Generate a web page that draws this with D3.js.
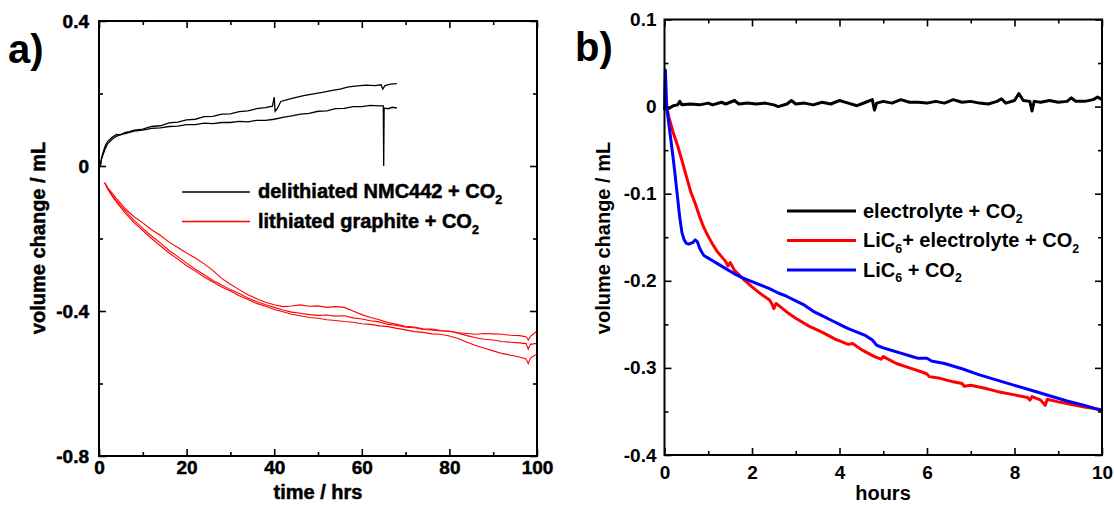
<!DOCTYPE html>
<html>
<head>
<meta charset="utf-8">
<script src="https://cdn.jsdelivr.net/npm/d3@7"></script>
<style>
  body { margin: 0; background: #fff; }
  svg { display: block; font-family: "Liberation Sans", Arial, sans-serif; font-weight: bold; }
  .heavy text { stroke: #000; stroke-width: 0.5px; }
</style>
</head>
<body>
<svg id="chart" width="1114" height="505"></svg>
<script>
// ---- panel a data: [time / hrs, volume change / mL] ----
const nmcUpper = [[0.3,0],[0.6,0.024],[1,0.04],[1.5,0.058],[2,0.068],[3,0.079],[4,0.087],[5,0.086],[6,0.093],[7,0.095],[8,0.099],[10,0.102],[12,0.109],[14,0.111],[16,0.119],[18,0.121],[20,0.127],[22,0.129],[24,0.136],[26,0.137],[28,0.143],[30,0.144],[32,0.15],[34,0.152],[36,0.158],[38,0.161],[39.6,0.165],[40,0.19],[40.2,0.151],[40.7,0.158],[41.5,0.178],[43,0.183],[45,0.189],[47,0.195],[49,0.199],[51,0.203],[53,0.208],[55,0.212],[57,0.218],[59,0.221],[61,0.223],[63,0.222],[64.4,0.224],[64.8,0.212],[65.3,0.222],[66.5,0.226],[68,0.227]];
const nmcLower = [[0.3,0],[0.6,0.02],[1,0.034],[1.5,0.05],[2,0.062],[3,0.074],[4,0.082],[5,0.087],[6,0.089],[8,0.096],[10,0.099],[12,0.104],[14,0.105],[16,0.109],[18,0.11],[20,0.114],[22,0.114],[24,0.118],[26,0.117],[28,0.12],[30,0.12],[32,0.123],[34,0.122],[36,0.126],[38,0.126],[40,0.129],[42,0.134],[44,0.138],[46,0.143],[48,0.145],[50,0.151],[52,0.152],[54,0.158],[56,0.159],[58,0.164],[60,0.164],[62,0.167],[64,0.166],[64.9,0.166],[65,0],[65.1,0.16],[66,0.158],[67,0.162],[68,0.16]];
const graphite1 = [[1.3,-0.046],[2,-0.06],[3,-0.075],[4,-0.09],[5,-0.104],[6,-0.118],[8,-0.14],[10,-0.157],[12,-0.176],[14,-0.191],[16,-0.21],[18,-0.225],[20,-0.24],[22,-0.254],[24,-0.27],[26,-0.288],[28,-0.31],[30,-0.326],[32,-0.341],[34,-0.355],[36,-0.366],[38,-0.376],[40,-0.383],[42,-0.388],[44,-0.386],[46,-0.383],[48,-0.387],[50,-0.386],[52,-0.39],[54,-0.388],[56,-0.39],[58,-0.4],[60,-0.41],[62,-0.418],[64,-0.424],[66,-0.432],[68,-0.437],[70,-0.442],[72,-0.444],[74,-0.449],[76,-0.45],[78,-0.454],[80,-0.456],[82,-0.461],[84,-0.468],[86,-0.474],[88,-0.478],[90,-0.48],[92,-0.484],[94,-0.486],[96,-0.488],[97.5,-0.49],[98,-0.505],[98.5,-0.492],[99.5,-0.49],[100,-0.49]];
const graphite2 = [[1.3,-0.046],[2,-0.062],[3,-0.08],[4,-0.096],[5,-0.11],[6,-0.124],[8,-0.15],[10,-0.172],[12,-0.193],[14,-0.212],[16,-0.233],[18,-0.25],[20,-0.268],[22,-0.285],[24,-0.3],[26,-0.316],[28,-0.328],[30,-0.341],[32,-0.352],[34,-0.364],[36,-0.374],[38,-0.383],[40,-0.39],[42,-0.397],[44,-0.403],[46,-0.406],[48,-0.41],[50,-0.412],[52,-0.411],[54,-0.414],[56,-0.413],[58,-0.419],[60,-0.422],[62,-0.427],[64,-0.43],[66,-0.437],[68,-0.44],[70,-0.445],[72,-0.446],[74,-0.451],[76,-0.452],[78,-0.455],[80,-0.456],[82,-0.46],[84,-0.462],[86,-0.464],[88,-0.462],[90,-0.463],[92,-0.464],[94,-0.467],[96,-0.468],[97.5,-0.471],[98,-0.48],[98.5,-0.47],[99.5,-0.46],[100,-0.454]];
const graphite3 = [[1.3,-0.046],[2,-0.064],[3,-0.083],[4,-0.1],[5,-0.115],[6,-0.13],[8,-0.156],[10,-0.178],[12,-0.2],[14,-0.22],[16,-0.24],[18,-0.257],[20,-0.275],[22,-0.29],[24,-0.306],[26,-0.32],[28,-0.334],[30,-0.345],[32,-0.358],[34,-0.368],[36,-0.379],[38,-0.387],[40,-0.396],[42,-0.402],[44,-0.409],[46,-0.413],[48,-0.418],[50,-0.42],[52,-0.424],[54,-0.426],[56,-0.429],[58,-0.431],[60,-0.435],[62,-0.437],[64,-0.441],[66,-0.443],[68,-0.448],[70,-0.452],[72,-0.457],[74,-0.459],[76,-0.463],[78,-0.464],[80,-0.469],[82,-0.476],[84,-0.486],[86,-0.495],[88,-0.503],[90,-0.51],[92,-0.517],[94,-0.522],[96,-0.527],[97.5,-0.532],[98,-0.545],[98.5,-0.53],[99.5,-0.522],[100,-0.52]];

// ---- panel b data: [hours, volume change / mL] ----
const electrolyte = [[0,0],[0.05,-0.003],[0.1,-0.002],[0.2,0.001],[0.3,0.002],[0.35,0.006],[0.4,0.002],[0.6,0.003],[0.8,0.002],[1,0.004],[1.1,0.002],[1.3,0.005],[1.4,0.003],[1.6,0.007],[1.7,0.003],[1.9,0.004],[2.1,0.003],[2.3,0.004],[2.5,0.002],[2.6,0],[2.8,0.003],[2.9,0.007],[3,0.003],[3.2,0.004],[3.4,0.002],[3.6,0.005],[3.8,0.003],[4,0.007],[4.2,0.004],[4.4,0.001],[4.6,0.005],[4.75,0.008],[4.8,-0.004],[4.85,0.004],[5,0.006],[5.2,0.004],[5.4,0.008],[5.6,0.005],[5.8,0.005],[6,0.004],[6.2,0.006],[6.4,0.004],[6.6,0.008],[6.8,0.005],[7,0.006],[7.2,0.004],[7.4,0.003],[7.6,0.006],[7.7,0.009],[7.8,0.004],[8,0.007],[8.1,0.015],[8.2,0.007],[8.35,0.006],[8.4,-0.005],[8.45,0.006],[8.6,0.005],[8.8,0.007],[9,0.005],[9.2,0.006],[9.3,0.01],[9.4,0.006],[9.6,0.006],[9.8,0.008],[9.9,0.011],[10,0.008]];
const licElectrolyte = [[0.05,0],[0.1,-0.012],[0.2,-0.03],[0.3,-0.045],[0.4,-0.062],[0.5,-0.08],[0.6,-0.098],[0.7,-0.111],[0.8,-0.126],[0.9,-0.139],[1,-0.149],[1.1,-0.158],[1.2,-0.166],[1.3,-0.172],[1.4,-0.178],[1.45,-0.183],[1.5,-0.179],[1.6,-0.188],[1.8,-0.198],[2,-0.207],[2.2,-0.215],[2.4,-0.222],[2.45,-0.226],[2.5,-0.232],[2.55,-0.226],[2.8,-0.236],[3,-0.243],[3.3,-0.252],[3.6,-0.259],[3.9,-0.267],[4.2,-0.273],[4.3,-0.272],[4.5,-0.279],[4.8,-0.287],[4.95,-0.29],[5,-0.287],[5.3,-0.295],[5.6,-0.3],[5.9,-0.305],[6,-0.307],[6.05,-0.31],[6.3,-0.312],[6.6,-0.316],[6.8,-0.318],[6.85,-0.321],[7,-0.32],[7.3,-0.323],[7.6,-0.327],[8,-0.331],[8.3,-0.334],[8.35,-0.337],[8.4,-0.333],[8.6,-0.337],[8.7,-0.343],[8.75,-0.336],[9,-0.339],[9.3,-0.342],[9.6,-0.345],[10,-0.348]];
const licOnly = [[0,-0.004],[0.02,0.042],[0.05,0],[0.1,-0.02],[0.15,-0.04],[0.2,-0.06],[0.25,-0.082],[0.3,-0.105],[0.35,-0.128],[0.4,-0.145],[0.45,-0.153],[0.5,-0.157],[0.55,-0.158],[0.6,-0.157],[0.65,-0.156],[0.7,-0.153],[0.75,-0.155],[0.8,-0.162],[0.85,-0.167],[0.9,-0.171],[1,-0.174],[1.1,-0.177],[1.2,-0.18],[1.4,-0.186],[1.6,-0.192],[1.8,-0.197],[2,-0.201],[2.2,-0.205],[2.4,-0.209],[2.6,-0.214],[2.8,-0.218],[3,-0.223],[3.2,-0.228],[3.4,-0.235],[3.6,-0.24],[3.8,-0.245],[4,-0.25],[4.2,-0.255],[4.4,-0.259],[4.6,-0.263],[4.75,-0.268],[4.85,-0.274],[5,-0.277],[5.2,-0.28],[5.4,-0.283],[5.6,-0.286],[5.8,-0.289],[6,-0.289],[6.1,-0.292],[6.4,-0.295],[6.8,-0.301],[7.2,-0.308],[7.6,-0.314],[8,-0.32],[8.4,-0.326],[8.8,-0.332],[9.2,-0.338],[9.6,-0.343],[10,-0.349]];

// ---- ticks ----
const aXMajor = [0, 20, 40, 60, 80, 100];
const aXMinor = [10, 30, 50, 70, 90];
const aXLabels = ["0", "20", "40", "60", "80", "100"];
const aYMajor = [0.4, 0, -0.4, -0.8];
const aYMinor = [0.2, -0.2, -0.6];
const aYLabels = ["0.4", "0", "-0.4", "-0.8"];
const bXMajor = [0, 2, 4, 6, 8, 10];
const bXMinor = [1, 3, 5, 7, 9];
const bXLabels = ["0", "2", "4", "6", "8", "10"];
const bYMajor = [0.1, 0, -0.1, -0.2, -0.3, -0.4];
const bYMinor = [0.05, -0.05, -0.15, -0.25, -0.35];
const bYLabels = ["0.1", "0", "-0.1", "-0.2", "-0.3", "-0.4"];

const svg = d3.select("#chart");

// draws inward ticks on all four sides plus the frame
function drawAxes(g, x, y, t) {
  const [xl, xr] = x.range();
  const [yt, yb] = y.range();
  const fmt = (labels) => (d, i) => labels[i];

  g.append("g").attr("transform", `translate(0,${yb})`)
    .call(d3.axisBottom(x).tickValues(t.xMajor).tickSize(-7).tickPadding(t.padX).tickFormat(fmt(t.xLabels)));
  g.append("g").attr("transform", `translate(0,${yb})`)
    .call(d3.axisBottom(x).tickValues(t.xMinor).tickSize(-4).tickFormat(""));
  g.append("g").attr("transform", `translate(0,${yt})`)
    .call(d3.axisTop(x).tickValues(t.xMajor).tickSize(-7).tickFormat(""));
  g.append("g").attr("transform", `translate(0,${yt})`)
    .call(d3.axisTop(x).tickValues(t.xMinor).tickSize(-4).tickFormat(""));

  g.append("g").attr("transform", `translate(${xl},0)`)
    .call(d3.axisLeft(y).tickValues(t.yMajor).tickSize(-7).tickPadding(t.padY).tickFormat(fmt(t.yLabels)));
  g.append("g").attr("transform", `translate(${xl},0)`)
    .call(d3.axisLeft(y).tickValues(t.yMinor).tickSize(-4).tickFormat(""));
  g.append("g").attr("transform", `translate(${xr},0)`)
    .call(d3.axisRight(y).tickValues(t.yMajor).tickSize(-7).tickFormat(""));
  g.append("g").attr("transform", `translate(${xr},0)`)
    .call(d3.axisRight(y).tickValues(t.yMinor).tickSize(-4).tickFormat(""));

  g.selectAll(".domain").remove();
  g.selectAll(".tick line").attr("stroke", "#000").attr("stroke-width", 1.6);
  g.selectAll(".tick text")
    .attr("fill", "#000")
    .style("font-size", t.fontSize + "px")
    .style("font-family", "Liberation Sans, Arial, sans-serif")
    .style("font-weight", "bold");

  g.append("rect")
    .attr("x", xl).attr("y", yt)
    .attr("width", xr - xl).attr("height", yb - yt)
    .attr("fill", "none").attr("stroke", "#000").attr("stroke-width", 2);
}

// text with subscripts, parts starting with "_" are lowered
function richText(g, x, y, parts, size) {
  const t = g.append("text").attr("x", x).attr("y", y).style("font-size", size + "px");
  const shift = size * 0.28;
  let low = false;
  parts.forEach((p) => {
    const sub = p.startsWith("_");
    const s = t.append("tspan").text(sub ? p.slice(1) : p);
    if (sub) {
      s.attr("dy", shift).style("font-size", (size * 0.62) + "px");
      low = true;
    } else if (low) {
      s.attr("dy", -shift);
      low = false;
    }
  });
  return t;
}

// ================= panel a =================
const ga = svg.append("g").attr("class", "heavy");
const xa = d3.scaleLinear().domain([0, 100]).range([99, 537]);
const ya = d3.scaleLinear().domain([0.4, -0.8]).range([21, 456]);

const lineA = d3.line().x((d) => xa(d[0])).y((d) => ya(d[1]));

[graphite1, graphite2, graphite3].forEach((s) => {
  ga.append("path").datum(s).attr("d", lineA)
    .attr("fill", "none").attr("stroke", "#ff0000").attr("stroke-width", 1.1);
});
[nmcUpper, nmcLower].forEach((s) => {
  ga.append("path").datum(s).attr("d", lineA)
    .attr("fill", "none").attr("stroke", "#000").attr("stroke-width", 1.3);
});

drawAxes(ga, xa, ya, {
  xMajor: aXMajor, xMinor: aXMinor, xLabels: aXLabels,
  yMajor: aYMajor, yMinor: aYMinor, yLabels: aYLabels,
  padX: 5, padY: 10, fontSize: 19
});

// legend a
ga.append("line").attr("x1", 182).attr("x2", 250).attr("y1", 192).attr("y2", 192)
  .attr("stroke", "#000").attr("stroke-width", 1.3);
richText(ga, 258, 198, ["delithiated NMC442 + CO", "_2"], 20);
ga.append("line").attr("x1", 182).attr("x2", 250).attr("y1", 221.5).attr("y2", 221.5)
  .attr("stroke", "#ff0000").attr("stroke-width", 1.6);
richText(ga, 258, 228, ["lithiated graphite + CO", "_2"], 20);

ga.append("text").attr("x", 318).attr("y", 499).attr("text-anchor", "middle")
  .style("font-size", "20px").text("time / hrs");
ga.append("text").attr("transform", "translate(45,238) rotate(-90)").attr("text-anchor", "middle")
  .style("font-size", "20px").text("volume change / mL");

svg.append("text").attr("x", 8).attr("y", 63).style("font-size", "40px").text("a)");

// ================= panel b =================
const gb = svg.append("g");
const xb = d3.scaleLinear().domain([0, 10]).range([664.5, 1102]);
const yb = d3.scaleLinear().domain([0.1, -0.4]).range([19.5, 455]);

const lineB = d3.line().x((d) => xb(d[0])).y((d) => yb(d[1]));

const seriesB = [
  { data: electrolyte, color: "#000000", parts: ["electrolyte + CO", "_2"] },
  { data: licElectrolyte, color: "#ff0000", parts: ["LiC", "_6", "+ electrolyte + CO", "_2"] },
  { data: licOnly, color: "#0000ff", parts: ["LiC", "_6", " + CO", "_2"] }
];

seriesB.forEach((s) => {
  gb.append("path").datum(s.data).attr("d", lineB)
    .attr("fill", "none").attr("stroke", s.color).attr("stroke-width", 3)
    .attr("stroke-linejoin", "round");
});

drawAxes(gb, xb, yb, {
  xMajor: bXMajor, xMinor: bXMinor, xLabels: bXLabels,
  yMajor: bYMajor, yMinor: bYMinor, yLabels: bYLabels,
  padX: 11, padY: 8, fontSize: 19
});

// legend b
seriesB.forEach((s, i) => {
  const ly = 211 + i * 29.5;
  gb.append("line").attr("x1", 787).attr("x2", 856).attr("y1", ly).attr("y2", ly)
    .attr("stroke", s.color).attr("stroke-width", 3);
  richText(gb, 863, ly + 6.5, s.parts, 20);
});

gb.append("text").attr("x", 883).attr("y", 500).attr("text-anchor", "middle")
  .style("font-size", "20px").text("hours");
gb.append("text").attr("transform", "translate(610,238) rotate(-90)").attr("text-anchor", "middle")
  .style("font-size", "20px").text("volume change / mL");

svg.append("text").attr("x", 575).attr("y", 61).style("font-size", "40px").text("b)");
</script>
</body>
</html>
